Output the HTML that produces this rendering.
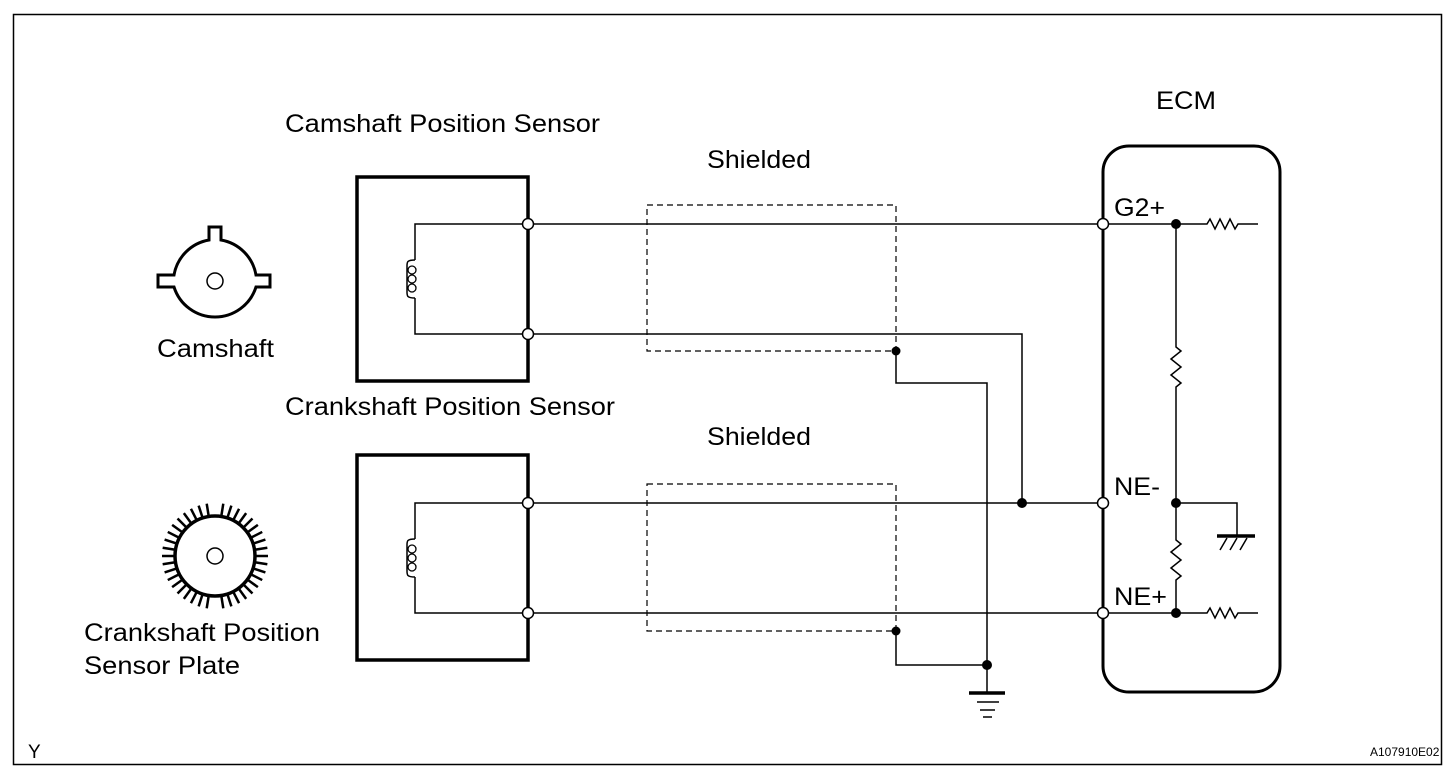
<!DOCTYPE html>
<html><head><style>
body{margin:0;background:#fff}
svg text{font-family:"Liberation Sans",sans-serif;fill:#000}
</style></head><body>
<svg width="1456" height="778" viewBox="0 0 1456 778" xmlns="http://www.w3.org/2000/svg">
<rect x="13.5" y="14.5" width="1428" height="750" fill="none" stroke="#000" stroke-width="1.5"/>
<g stroke="#000" fill="none">
<!-- camshaft -->
<path d="M209,240 L209,227 L221,227 L221,240 A43,43 0 0 1 256,275 L270,275 L270,287 L256,287 A43,43 0 0 1 174,287 L158,287 L158,275 L174,275 A43,43 0 0 1 209,240 Z" stroke-width="3"/>
<circle cx="215" cy="281" r="8" stroke-width="1.5"/>
<!-- crank plate -->
<circle cx="215" cy="556" r="40" stroke-width="3.5"/>
<circle cx="215" cy="556" r="8" stroke-width="1.5"/>
<g stroke-width="2.5">
<line x1="215" y1="515" x2="215" y2="503" transform="rotate(9 215 556)"/>
<line x1="215" y1="515" x2="215" y2="503" transform="rotate(18 215 556)"/>
<line x1="215" y1="515" x2="215" y2="503" transform="rotate(27 215 556)"/>
<line x1="215" y1="515" x2="215" y2="503" transform="rotate(36 215 556)"/>
<line x1="215" y1="515" x2="215" y2="503" transform="rotate(45 215 556)"/>
<line x1="215" y1="515" x2="215" y2="503" transform="rotate(54 215 556)"/>
<line x1="215" y1="515" x2="215" y2="503" transform="rotate(63 215 556)"/>
<line x1="215" y1="515" x2="215" y2="503" transform="rotate(72 215 556)"/>
<line x1="215" y1="515" x2="215" y2="503" transform="rotate(81 215 556)"/>
<line x1="215" y1="515" x2="215" y2="503" transform="rotate(90 215 556)"/>
<line x1="215" y1="515" x2="215" y2="503" transform="rotate(99 215 556)"/>
<line x1="215" y1="515" x2="215" y2="503" transform="rotate(108 215 556)"/>
<line x1="215" y1="515" x2="215" y2="503" transform="rotate(117 215 556)"/>
<line x1="215" y1="515" x2="215" y2="503" transform="rotate(126 215 556)"/>
<line x1="215" y1="515" x2="215" y2="503" transform="rotate(135 215 556)"/>
<line x1="215" y1="515" x2="215" y2="503" transform="rotate(144 215 556)"/>
<line x1="215" y1="515" x2="215" y2="503" transform="rotate(153 215 556)"/>
<line x1="215" y1="515" x2="215" y2="503" transform="rotate(162 215 556)"/>
<line x1="215" y1="515" x2="215" y2="503" transform="rotate(171 215 556)"/>
<line x1="215" y1="515" x2="215" y2="503" transform="rotate(189 215 556)"/>
<line x1="215" y1="515" x2="215" y2="503" transform="rotate(198 215 556)"/>
<line x1="215" y1="515" x2="215" y2="503" transform="rotate(207 215 556)"/>
<line x1="215" y1="515" x2="215" y2="503" transform="rotate(216 215 556)"/>
<line x1="215" y1="515" x2="215" y2="503" transform="rotate(225 215 556)"/>
<line x1="215" y1="515" x2="215" y2="503" transform="rotate(234 215 556)"/>
<line x1="215" y1="515" x2="215" y2="503" transform="rotate(243 215 556)"/>
<line x1="215" y1="515" x2="215" y2="503" transform="rotate(252 215 556)"/>
<line x1="215" y1="515" x2="215" y2="503" transform="rotate(261 215 556)"/>
<line x1="215" y1="515" x2="215" y2="503" transform="rotate(270 215 556)"/>
<line x1="215" y1="515" x2="215" y2="503" transform="rotate(279 215 556)"/>
<line x1="215" y1="515" x2="215" y2="503" transform="rotate(288 215 556)"/>
<line x1="215" y1="515" x2="215" y2="503" transform="rotate(297 215 556)"/>
<line x1="215" y1="515" x2="215" y2="503" transform="rotate(306 215 556)"/>
<line x1="215" y1="515" x2="215" y2="503" transform="rotate(315 215 556)"/>
<line x1="215" y1="515" x2="215" y2="503" transform="rotate(324 215 556)"/>
<line x1="215" y1="515" x2="215" y2="503" transform="rotate(333 215 556)"/>
<line x1="215" y1="515" x2="215" y2="503" transform="rotate(342 215 556)"/>
<line x1="215" y1="515" x2="215" y2="503" transform="rotate(351 215 556)"/>
</g>
<!-- sensor boxes -->
<rect x="357" y="177" width="171" height="204" stroke-width="3.5"/>
<rect x="357" y="455" width="171" height="205" stroke-width="3.5"/>
<g stroke-width="1.5">
<path d="M528,224 H415 V260 M415,298 V334 H528"/>
<path d="M415,260 c-8,0 -8,2 -8,6 v26 c0,4 0,6 8,6"/>
<path d="M528,503 H415 V539 M415,577 V613 H528"/>
<path d="M415,539 c-8,0 -8,2 -8,6 v26 c0,4 0,6 8,6"/>
</g>
<g stroke-width="1.3">
<ellipse cx="412" cy="270" rx="4" ry="4"/><ellipse cx="412" cy="279" rx="4" ry="4"/><ellipse cx="412" cy="288" rx="4" ry="4"/>
<ellipse cx="412" cy="549" rx="4" ry="4"/><ellipse cx="412" cy="558" rx="4" ry="4"/><ellipse cx="412" cy="567" rx="4" ry="4"/>
</g>
<!-- wires -->
<g stroke-width="1.5">
<path d="M528,224 H1103"/>
<path d="M528,334 H1022 V503"/>
<path d="M528,503 H1103"/>
<path d="M528,613 H1103"/>
<path d="M896,351 V383 H987 V693"/>
<path d="M896,631 V665 H987"/>
</g>
<g stroke-width="1.2" stroke-dasharray="6,4">
<rect x="647" y="205" width="249" height="146"/>
<rect x="647" y="484" width="249" height="147"/>
</g>
<path d="M969,693 H1005" stroke-width="3.5"/>
<path d="M977,702 H999 M980,710 H995 M983,717 H992" stroke-width="1.5"/>
<!-- ECM -->
<rect x="1103" y="146" width="177" height="546" rx="26" stroke-width="3"/>
<g stroke-width="1.5">
<path d="M1103,224 H1207 l3,-5 l5,10 l5,-10 l5,10 l5,-10 l5,10 l3,-5 H1258"/>
<path d="M1103,613 H1207 l3,-5 l5,10 l5,-10 l5,10 l5,-10 l5,10 l3,-5 H1258"/>
<path d="M1176,224 V347 l5,4 l-10,8 l10,8 l-10,8 l10,8 l-5,4 V540 l5,4 l-10,8 l10,8 l-10,8 l10,8 l-5,4 V613"/>
<path d="M1176,503 H1237 V536"/>
<path d="M1227,538 l-7,12 M1237,538 l-7,12 M1247,538 l-7,12"/>
</g>
<path d="M1217,536 H1255" stroke-width="3.5"/>
</g>
<g fill="#000">
<circle cx="896" cy="351" r="4.5"/><circle cx="896" cy="631" r="4.5"/>
<circle cx="987" cy="665" r="5"/><circle cx="1022" cy="503" r="5"/>
<circle cx="1176" cy="224" r="5"/><circle cx="1176" cy="503" r="5"/><circle cx="1176" cy="613" r="5"/>
</g>
<g fill="#fff" stroke="#000" stroke-width="1.5">
<circle cx="528" cy="224" r="5.5"/><circle cx="528" cy="334" r="5.5"/>
<circle cx="528" cy="503" r="5.5"/><circle cx="528" cy="613" r="5.5"/>
<circle cx="1103" cy="224" r="5.5"/><circle cx="1103" cy="503" r="5.5"/><circle cx="1103" cy="613" r="5.5"/>
</g>
<g font-size="25">
<text x="285" y="132" textLength="315" lengthAdjust="spacingAndGlyphs">Camshaft Position Sensor</text>
<text x="285" y="415" textLength="330" lengthAdjust="spacingAndGlyphs">Crankshaft Position Sensor</text>
<text x="707" y="168" textLength="104" lengthAdjust="spacingAndGlyphs">Shielded</text>
<text x="707" y="445" textLength="104" lengthAdjust="spacingAndGlyphs">Shielded</text>
<text x="1156" y="109" textLength="60" lengthAdjust="spacingAndGlyphs">ECM</text>
<text x="157" y="357" textLength="117" lengthAdjust="spacingAndGlyphs">Camshaft</text>
<text x="84" y="641" textLength="236" lengthAdjust="spacingAndGlyphs">Crankshaft Position</text>
<text x="84" y="674" textLength="156" lengthAdjust="spacingAndGlyphs">Sensor Plate</text>
<text x="1114" y="216" textLength="51" lengthAdjust="spacingAndGlyphs">G2+</text>
<text x="1114" y="495" textLength="46" lengthAdjust="spacingAndGlyphs">NE-</text>
<text x="1114" y="605" textLength="53" lengthAdjust="spacingAndGlyphs">NE+</text>
<text x="28" y="758" font-size="19">Y</text>
<text x="1370" y="756" font-size="12">A107910E02</text>
</g>
</svg>
</body></html>
